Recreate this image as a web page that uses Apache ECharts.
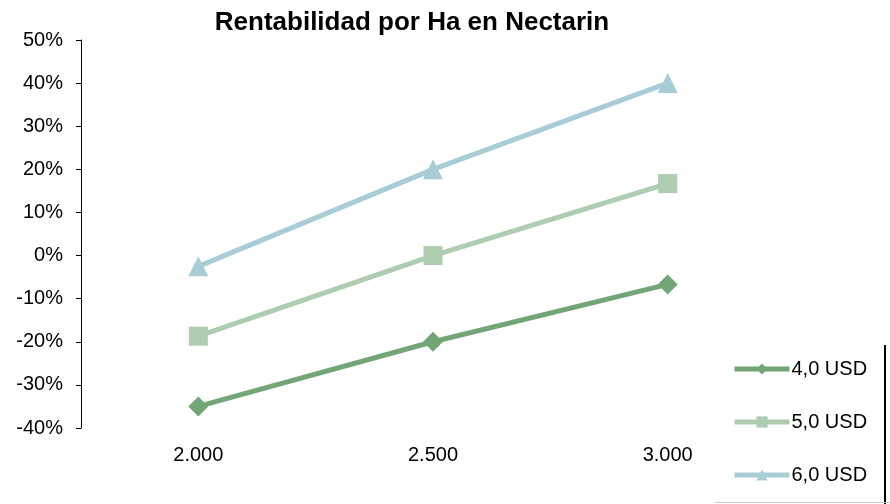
<!DOCTYPE html>
<html><head><meta charset="utf-8">
<script src="https://cdn.jsdelivr.net/npm/echarts@6/dist/echarts.min.js"></script>
<style>html,body{margin:0;padding:0;background:#fff}#c{width:890px;height:504px}</style>
</head><body><div id="c"></div>
<script>
const categories = ['2.000', '2.500', '3.000'];
const seriesNames = ['4,0 USD', '5,0 USD', '6,0 USD'];
const s4 = [-35, -20, -6.7];
const s5 = [-18.7, 0, 16.7];
const s6 = [-2.5, 20, 40];
const yTicks = {min: -40, max: 50, interval: 10};

const colors = ['#72a676', '#aecdb0', '#a8cdd7'];
const symbols = ['diamond', 'rect', 'triangle'];
const sizes = [20, 19, 20];
const data = [s4, s5, s6];
const font = 'Liberation Sans, Arial';

const chart = echarts.init(document.getElementById('c'));
chart.setOption({
  animation: false,
  title: {text: 'Rentabilidad por Ha en Nectarin', left: 407, top: 5, textAlign: 'center',
    textStyle: {fontFamily: font, fontSize: 26, fontWeight: 'bold', color: '#000'}},
  grid: {left: 81, right: 105, top: 40, bottom: 76},
  xAxis: {type: 'category', data: categories, boundaryGap: true,
    axisLine: {show: false}, axisTick: {show: false},
    axisLabel: {fontFamily: font, fontSize: 20, color: '#000', margin: 17}},
  yAxis: {type: 'value', min: yTicks.min, max: yTicks.max, interval: yTicks.interval,
    axisLine: {show: true, lineStyle: {color: '#000', width: 1}},
    axisTick: {show: true, length: 5, lineStyle: {color: '#000'}},
    splitLine: {show: false},
    axisLabel: {formatter: '{value}%', fontFamily: font, fontSize: 20, color: '#000', margin: 18}},
  legend: {orient: 'vertical', left: 732, top: 359, padding: 0, itemGap: 33, itemWidth: 55, itemHeight: 14,
    lineStyle: {width: 5},
    textStyle: {fontFamily: font, fontSize: 20, color: '#000', padding: [0,0,0,-3]},
    data: seriesNames},
  graphic: [
    {type: 'line', shape: {x1: 885, y1: 345, x2: 885, y2: 504}, style: {stroke: '#000', lineWidth: 2}},
    {type: 'line', shape: {x1: 715, y1: 502.5, x2: 890, y2: 502.5}, style: {stroke: '#c8c8c8', lineWidth: 1}}
  ],
  series: data.map((d, i) => ({
    name: seriesNames[i], type: 'line', data: d,
    symbol: symbols[i], symbolSize: sizes[i],
    lineStyle: {color: colors[i], width: 5},
    itemStyle: {color: colors[i]}
  }))
});
</script></body></html>
